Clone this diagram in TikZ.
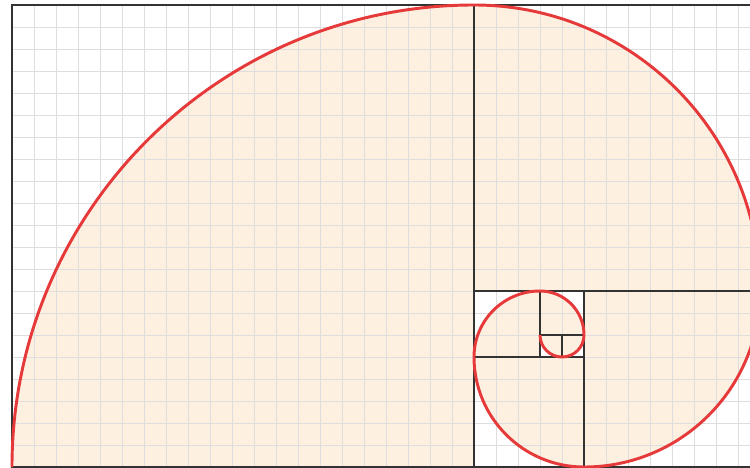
\documentclass[tikz,border=0pt]{standalone}
\usepackage{tikz}
\usepackage{xcolor}
\definecolor{spiralred}{RGB}{229, 57, 58}
\definecolor{sandfill}{RGB}{253, 240, 225}
\definecolor{darkgray}{RGB}{51, 51, 51}
\definecolor{gridgray}{RGB}{222, 222, 222}

\begin{document}
\begin{tikzpicture}[x=0.5cm, y=0.5cm,
    gridline/.style={draw=gridgray, line width=0.6pt},
    tilebox/.style={draw=darkgray, line width=1.4pt},
    spiral/.style={draw=spiralred, line width=1.9pt},
    quarter/.style={fill=sandfill}]

% Frame of the picture
\useasboundingbox (-0.545,-0.03) rectangle (33.545,21.227);
\clip (-0.545,-0.03) rectangle (33.545,21.227);

% Quarter discs under the spiral
\foreach \cx/\cy/\r/\a in {21/0/21/180, 21/8/13/90, 26/8/8/0, 26/5/5/-90,
                           24/5/3/180, 24/6/2/90, 25/6/1/0, 25/6/1/-90}
  \fill[quarter] (\cx,\cy) -- ++(\a:\r) arc (\a:\a-90:\r) -- cycle;

% Unit grid
\draw[gridline, step=1] (0,0) grid (34,21);

% Fibonacci squares
\foreach \x/\y/\s in {0/0/21, 21/8/13, 26/0/8, 21/0/5, 21/5/3, 24/6/2,
                      25/5/1, 24/5/1}
  \draw[tilebox] (\x,\y) rectangle ++(\s,\s);

% Spiral
\draw[spiral] (0,0) arc (180:90:21) arc (90:0:13) arc (0:-90:8)
      arc (-90:-180:5) arc (180:90:3) arc (90:0:2) arc (0:-90:1)
      arc (-90:-180:1);

\end{tikzpicture}
\end{document}
